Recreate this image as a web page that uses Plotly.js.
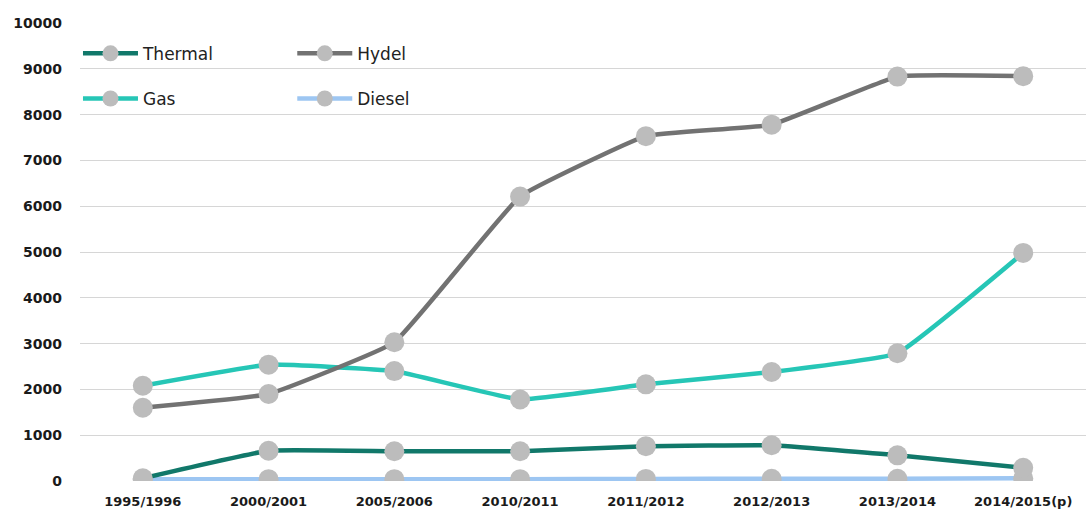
<!DOCTYPE html>
<html>
<head>
<meta charset="utf-8">
<script src="https://cdn.plot.ly/plotly-3.0.1.min.js"></script>
<style>html,body{margin:0;padding:0;background:#fff;}#chart{width:1088px;height:530px;}</style>
</head>
<body>
<div id="chart"></div>
<script>
var years = ["1995/1996","2000/2001","2005/2006","2010/2011","2011/2012","2012/2013","2013/2014","2014/2015(p)"];
var thermal = [60, 660, 650, 650, 760, 780, 560, 290];
var hydel   = [1600, 1900, 3030, 6210, 7530, 7780, 8830, 8840];
var gas     = [2080, 2540, 2400, 1780, 2110, 2380, 2790, 4980];
var diesel  = [40, 40, 40, 40, 45, 50, 50, 60];

var markerStyle = {size: 20, color: "#bcbcbc"};
function tr(name, y, color, legend, group) {
  return {
    type: "scatter", mode: "lines+markers", name: name, x: years, y: y,
    line: {color: color, width: 4.5, shape: "spline", smoothing: 0.3},
    marker: markerStyle, legend: legend, legendgroup: group
  };
}
var data = [
  tr("Diesel", diesel, "#9dc6f2", "legend2", "d"),
  tr("Thermal", thermal, "#11786a", "legend", "t"),
  tr("Gas", gas, "#26c6b6", "legend", "g"),
  tr("Hydel", hydel, "#727272", "legend2", "h")
];
data[0].legendrank = 2; data[3].legendrank = 1;
data[1].legendrank = 1; data[2].legendrank = 2;

var legFont = {family: "DejaVu Sans, Arial, sans-serif", size: 17, color: "#222"};
var layout = {
  width: 1088, height: 530,
  margin: {l: 80, r: 2, t: 23, b: 49},
  paper_bgcolor: "#fff", plot_bgcolor: "#fff",
  xaxis: {
    type: "category", showgrid: false, zeroline: false, showline: false,
    ticks: "", ticklabelstandoff: 11,
    tickfont: {family: "DejaVu Sans, Arial, sans-serif", size: 13, color: "#1a1a1a", weight: "bold"}
  },
  yaxis: {
    range: [0, 10000], dtick: 1000, tickformat: "d", showgrid: true, gridcolor: "#d6d6d6", gridwidth: 1,
    zeroline: false, showline: false, ticks: "", ticklabelstandoff: 17,
    tickfont: {family: "DejaVu Sans, Arial, sans-serif", size: 14, color: "#1a1a1a", weight: "bold"}
  },
  showlegend: true,
  legend: {x: -0.002, xanchor: "left", y: 0.972, yanchor: "top", bgcolor: "rgba(0,0,0,0)",
           font: legFont, tracegroupgap: 20, itemwidth: 55, traceorder: "grouped"},
  legend2: {x: 0.211, xanchor: "left", y: 0.972, yanchor: "top", bgcolor: "rgba(0,0,0,0)",
           font: legFont, tracegroupgap: 20, itemwidth: 55, traceorder: "grouped"}
};
Plotly.newPlot("chart", data, layout, {displayModeBar: false});
</script>
</body>
</html>
